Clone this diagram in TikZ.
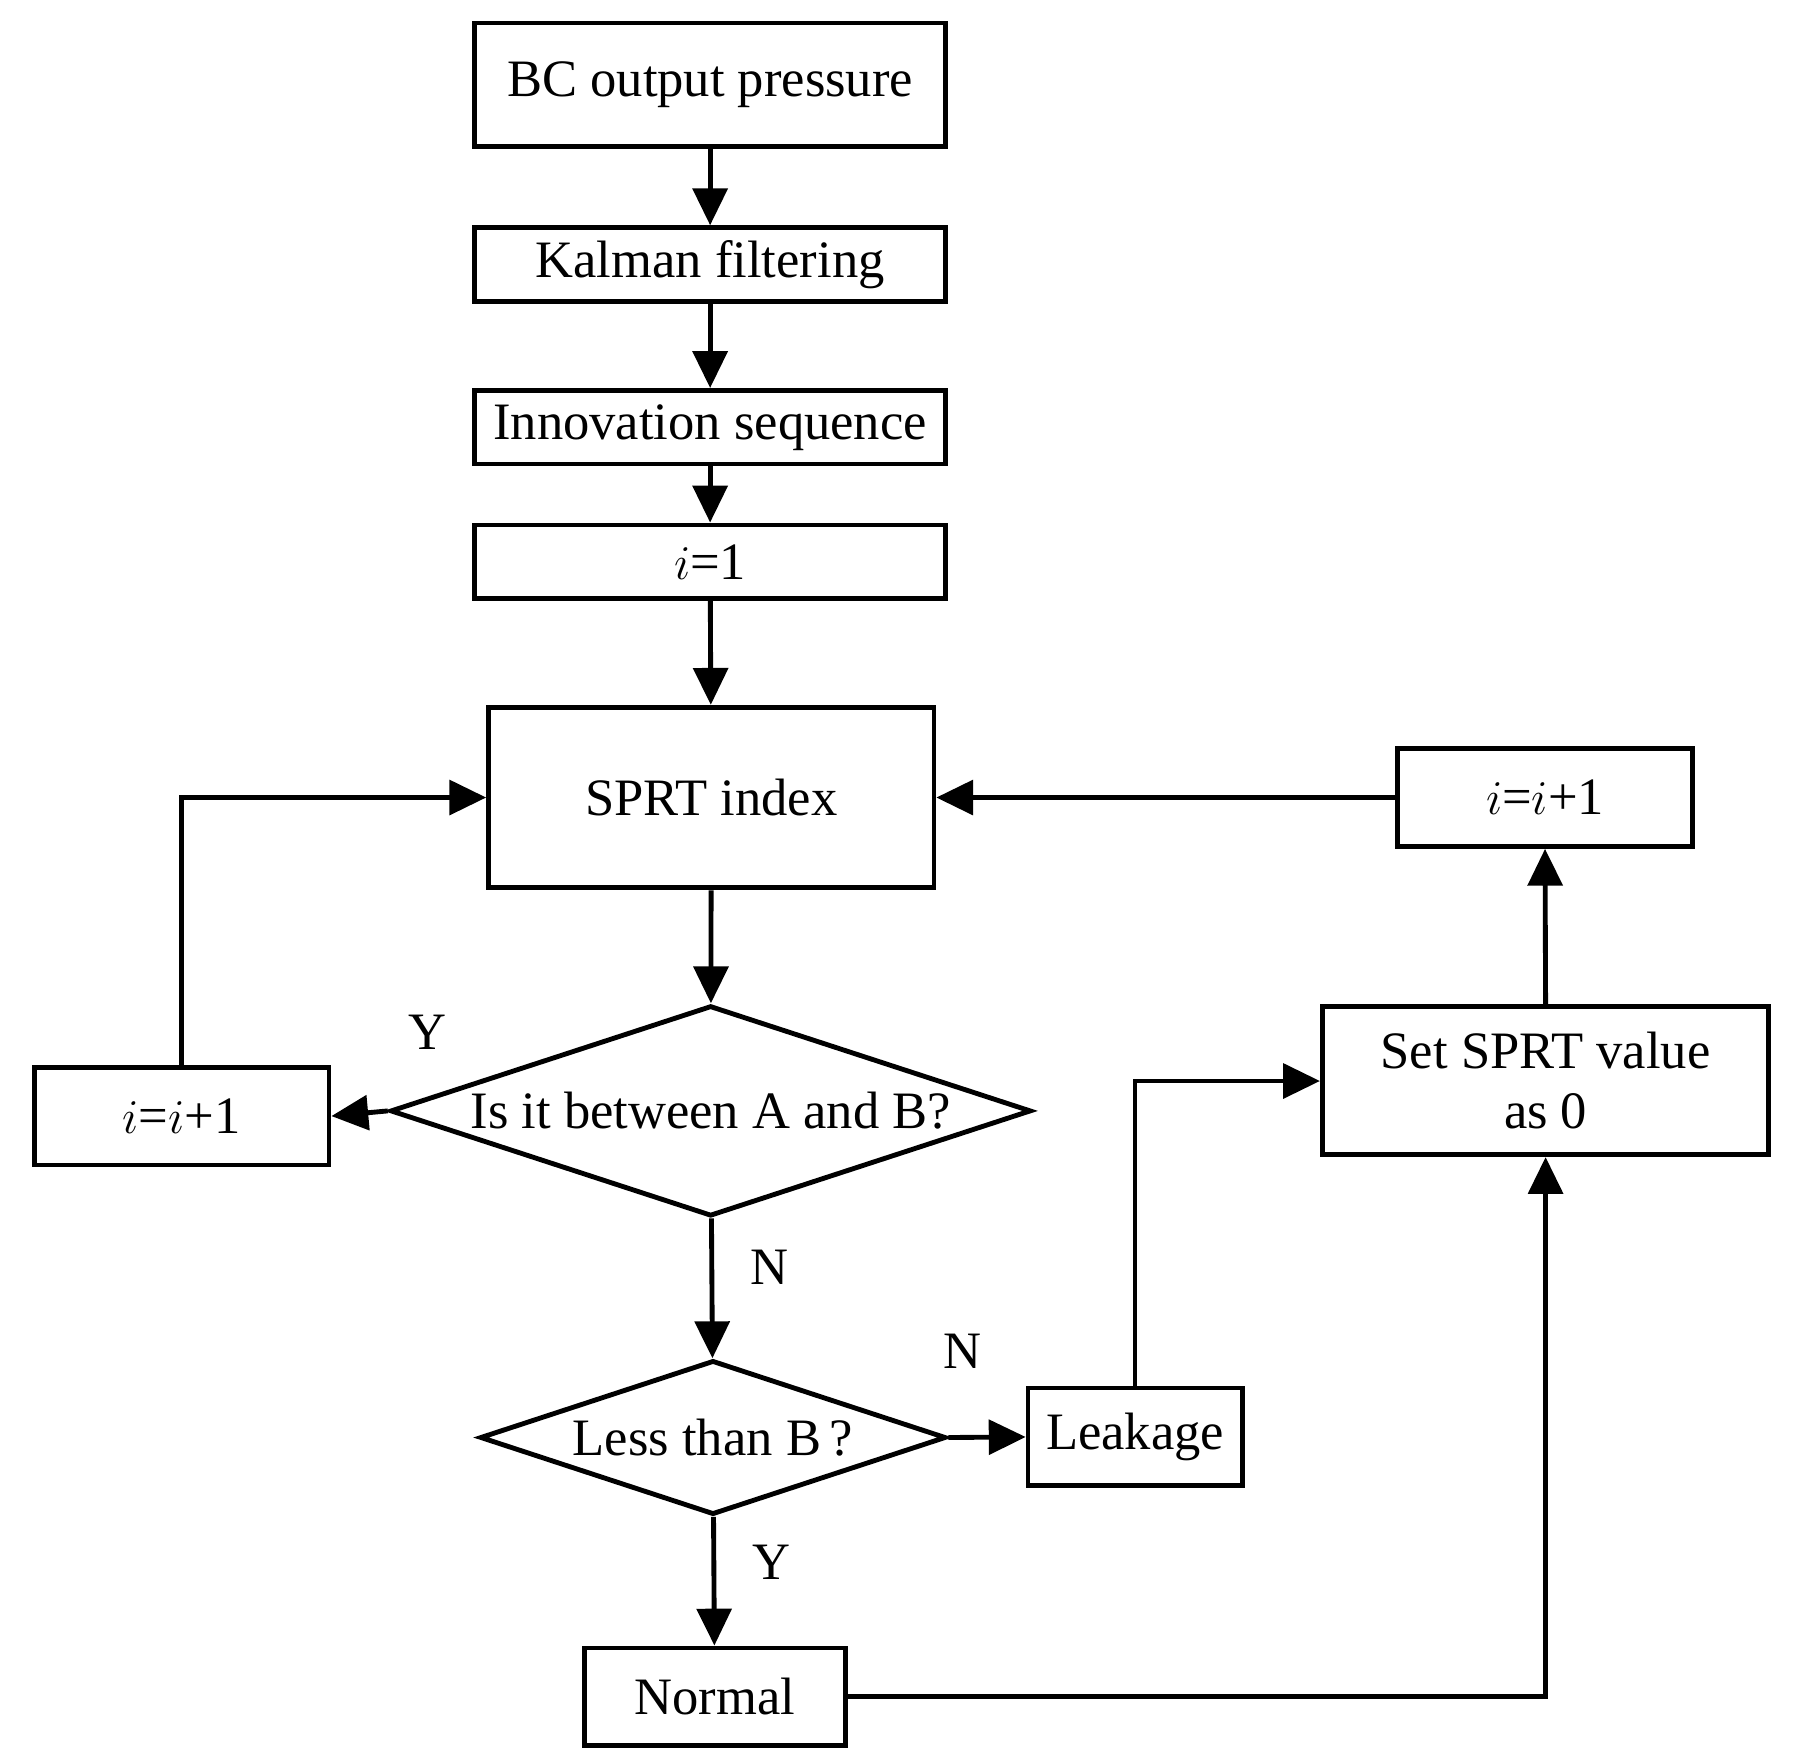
\documentclass[tikz,border=0pt]{standalone}
\usepackage{fontspec}
\setmainfont{Liberation Serif}
\usetikzlibrary{shapes.geometric,arrows.meta}

\tikzset{
	blk/.style={draw,line width=1.2pt,minimum width=4.09cm,minimum height=0.64cm,inner sep=0pt},
	dec/.style={draw,diamond,line width=1.2pt,inner sep=0pt,aspect=3},
	flow/.style={line width=1.2pt,-{Triangle[length=0.32cm,width=0.3cm]}},
}

\begin{document}
\begin{tikzpicture}[x=0.01cm,y=-0.01cm,font=\fontsize{13}{15}\selectfont]
	\useasboundingbox (0,0) rectangle (1560,1530);
	% main column
	\node[blk,minimum height=1.07cm] (bc) at (617.5,73.5) {BC output pressure};
	\node[blk] (kf) at (617.5,230) {Kalman filtering};
	\node[blk] (inn) at (617.5,371.5) {Innovation sequence};
	\node[blk] (init) at (617.5,488.5) {$i$=1};
	\node[blk,minimum width=3.87cm,minimum height=1.57cm] (sprt) at (618.5,693.5) {SPRT index};
	\node[dec,minimum width=5.57cm,minimum height=1.83cm] (between) at (618,966) {Is it between A and B?};
	\node[dec,minimum width=4.05cm,minimum height=1.34cm] (less) at (620,1250) {Less than B\,?};
	\node[blk,minimum width=2.27cm,minimum height=0.85cm] (normal) at (621.5,1475.5) {Normal};
	% side boxes
	\node[blk,minimum width=2.56cm,minimum height=0.85cm] (incl) at (158,970.5) {$i$=$i$+1};
	\node[blk,minimum width=1.86cm,minimum height=0.85cm] (leak) at (987,1249.5) {Leakage};
	\node[blk,minimum width=3.88cm,minimum height=1.29cm,align=center] (reset) at (1344,939.5) {Set SPRT value\\as 0};
	\node[blk,minimum width=2.57cm,minimum height=0.85cm] (incr) at (1343.5,693.5) {$i$=$i$+1};
	\coordinate (lcorner) at (158,693.5);
	\coordinate (kcorner) at (987,940);
	\coordinate (ncorner) at (1344,1475.5);
	% connectors
	\draw[flow] (bc) -- (kf);
	\draw[flow] (kf) -- (inn);
	\draw[flow] (inn) -- (init);
	\draw[flow] (init) -- (sprt);
	\draw[flow] (sprt) -- (between);
	\draw[flow] (between) -- node[right=0.2cm,pos=0.35]{N} (less);
	\draw[flow] (less) -- node[right=0.2cm,pos=0.35]{Y} (normal);
	\draw[flow] (between.west) -- (incl.east);
	\node at (372,898) {Y};
	\draw[flow] (incl.north) -- (lcorner) -- (sprt.west);
	\draw[flow] (less.east) -- (leak.west);
	\node at (837,1175) {N};
	\draw[flow] (leak.north) -- (kcorner) -- (reset.west |- kcorner);
	\draw[flow] (normal.east) -- (ncorner) -- (reset.south);
	\draw[flow] (reset.north) -- (incr.south);
	\draw[flow] (incr.west) -- (sprt.east);
\end{tikzpicture}
\end{document}
